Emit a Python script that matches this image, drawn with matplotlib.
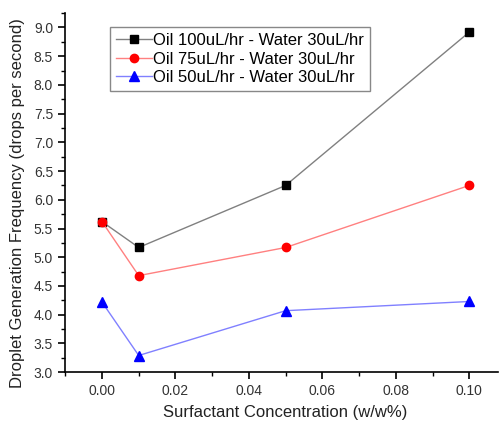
import matplotlib.pyplot as plt
from matplotlib.ticker import MultipleLocator

plt.rcParams['font.family'] = ['Liberation Sans', 'DejaVu Sans']

conc = [0.00, 0.01, 0.05, 0.10]
oil_100 = [5.62, 5.17, 6.25, 8.92]
oil_75 = [5.62, 4.68, 5.17, 6.25]
oil_50 = [4.22, 3.29, 4.07, 4.23]

fig = plt.figure(figsize=(4.99, 4.21), dpi=100)
ax = fig.add_axes([0.130, 0.116, 0.868, 0.853])

ax.plot(conc, oil_100, color='#808080', lw=1, marker='s', ms=5.5,
        mfc='black', mec='black', label='Oil 100uL/hr - Water 30uL/hr')
ax.plot(conc, oil_75, color='#ff8080', lw=1, marker='o', ms=6,
        mfc='red', mec='red', label='Oil 75uL/hr - Water 30uL/hr')
ax.plot(conc, oil_50, color='#8080ff', lw=1, marker='^', ms=6.5,
        mfc='blue', mec='blue', label='Oil 50uL/hr - Water 30uL/hr')

ax.set_xlim(-0.0101, 0.1078)
ax.set_ylim(3.0, 9.25)
ax.xaxis.set_major_locator(MultipleLocator(0.02))
ax.xaxis.set_minor_locator(MultipleLocator(0.01))
ax.yaxis.set_major_locator(MultipleLocator(0.5))
ax.yaxis.set_minor_locator(MultipleLocator(0.25))
ax.set_xticks([0.0, 0.02, 0.04, 0.06, 0.08, 0.10])
ax.set_xticklabels(['0.00', '0.02', '0.04', '0.06', '0.08', '0.10'])

for s in ['top', 'right']:
    ax.spines[s].set_visible(False)
ax.spines['left'].set_linewidth(1.2)
ax.spines['bottom'].set_linewidth(1.2)
ax.tick_params(which='major', direction='out', length=5, width=1.2,
               labelsize=10, colors='black', labelcolor='#333333')
ax.tick_params(which='minor', direction='out', length=3, width=1)

ax.set_xlabel('Surfactant Concentration (w/w%)', fontsize=12, color='#222222')
ax.xaxis.set_label_coords(0.508, -0.092)
ax.set_ylabel('Droplet Generation Frequency (drops per second)', fontsize=12,
              color='#222222')
ax.yaxis.set_label_coords(-0.092, 0.47)

leg = ax.legend(loc='upper left', bbox_to_anchor=(0.104, 0.96), fontsize=12,
                frameon=True, fancybox=False, framealpha=1, edgecolor='#888888',
                handlelength=2.2, handletextpad=0.05, borderpad=0.35,
                labelspacing=0.2, borderaxespad=0)
leg.get_frame().set_linewidth(1)

plt.savefig('out.png', dpi=100)
